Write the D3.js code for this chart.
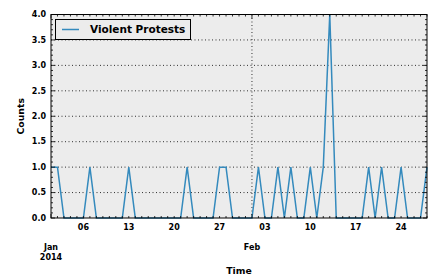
<!DOCTYPE html>
<html>
<head>
<meta charset="utf-8">
<script src="https://cdn.jsdelivr.net/npm/d3@7"></script>
<style>
  body { margin: 0; background: #fff; }
  svg text { font-family: "DejaVu Sans", sans-serif; font-weight: bold; fill: #000; }
</style>
</head>
<body>
<svg></svg>
<script>
const startDay = '2014-01-01';
const counts = [
	1, 1, 0, 0, 0, 0, 1, 0, 0, 0, 0, 0, 1, 0, 0, 0, 0, 0, 0, 0, 0, 1, 0, 0, 0, 0, 1, 1, 0, 0, 0,
	0, 1, 0, 0, 1, 0, 1, 0, 0, 1, 0, 1, 4, 0, 0, 0, 0, 0, 1, 0, 1, 0, 0, 1, 0, 0, 0, 1
];
const yTicks = [0, 0.5, 1, 1.5, 2, 2.5, 3, 3.5, 4];
const seriesName = 'Violent Protests';

const parse = d3.timeParse('%Y-%m-%d');
const t0 = parse(startDay);
const data = counts.map((v, i) => ({date: d3.timeDay.offset(t0, i), value: v}));

const width = 433, height = 280;
const pLeft = 51, pRight = 427, pTop = 14.5, pBottom = 218;

const svg = d3.select('svg')
	.attr('width', width)
	.attr('height', height);

const x = d3.scaleTime()
	.domain([data[0].date, data[data.length - 1].date])
	.range([pLeft, pRight]);
const y = d3.scaleLinear()
	.domain([0, 4])
	.range([pBottom, pTop]);

// background
svg.append('rect')
	.attr('x', pLeft).attr('y', pTop)
	.attr('width', pRight - pLeft).attr('height', pBottom - pTop)
	.attr('fill', '#ececec');

// grid
const majorX = d3.timeMonth.range(data[0].date, d3.timeDay.offset(data[data.length - 1].date, 1));
svg.append('g')
	.selectAll('line')
	.data(yTicks.slice(1, -1))
	.enter().append('line')
		.attr('x1', pLeft).attr('x2', pRight)
		.attr('y1', d => y(d)).attr('y2', d => y(d))
		.attr('stroke', '#000')
		.attr('stroke-width', 0.8)
		.attr('stroke-dasharray', '1,2.5');
svg.append('g')
	.selectAll('line')
	.data(majorX.slice(1))
	.enter().append('line')
		.attr('x1', d => x(d)).attr('x2', d => x(d))
		.attr('y1', pTop).attr('y2', pBottom)
		.attr('stroke', '#000')
		.attr('stroke-width', 0.8)
		.attr('stroke-dasharray', '1,2.5');

// line
const line = d3.line()
	.x(d => x(d.date))
	.y(d => y(d.value));
svg.append('path')
	.datum(data)
	.attr('fill', 'none')
	.attr('stroke', '#348ABD')
	.attr('stroke-width', 1.5)
	.attr('d', line);

// ticks (inside)
const days = data.map(d => d.date);
const ticks = svg.append('g').attr('stroke', '#000').attr('stroke-width', 0.8);
days.forEach(d => {
	const len = d.getDate() === 1 ? 4 : 2;
	ticks.append('line').attr('x1', x(d)).attr('x2', x(d)).attr('y1', pBottom).attr('y2', pBottom - len);
	ticks.append('line').attr('x1', x(d)).attr('x2', x(d)).attr('y1', pTop).attr('y2', pTop + len);
});
d3.range(0, 41).forEach(i => {
	const v = i / 10;
	const len = i % 5 === 0 ? 4 : 2;
	ticks.append('line').attr('x1', pLeft).attr('x2', pLeft + len).attr('y1', y(v)).attr('y2', y(v));
	ticks.append('line').attr('x1', pRight).attr('x2', pRight - len).attr('y1', y(v)).attr('y2', y(v));
});

// frame
svg.append('rect')
	.attr('x', pLeft).attr('y', pTop)
	.attr('width', pRight - pLeft).attr('height', pBottom - pTop)
	.attr('fill', 'none')
	.attr('stroke', '#000')
	.attr('stroke-width', 1);

// y labels
svg.append('g')
	.selectAll('text')
	.data(yTicks)
	.enter().append('text')
		.attr('x', 46)
		.attr('y', d => y(d))
		.attr('dy', '0.35em')
		.attr('text-anchor', 'end')
		.attr('font-size', 8)
		.text(d3.format('.1f'));

// x minor labels (Mondays)
const mondays = days.filter(d => d.getDay() === 1);
svg.append('g')
	.selectAll('text')
	.data(mondays)
	.enter().append('text')
		.attr('x', d => x(d))
		.attr('y', 230)
		.attr('text-anchor', 'middle')
		.attr('font-size', 8)
		.text(d3.timeFormat('%d'));

// x major labels
const majorLab = svg.append('g');
majorX.forEach((d, i) => {
	majorLab.append('text')
		.attr('x', x(d))
		.attr('y', 250)
		.attr('text-anchor', 'middle')
		.attr('font-size', 8)
		.text(d3.timeFormat('%b')(d));
	if (i === 0) {
		majorLab.append('text')
			.attr('x', x(d))
			.attr('y', 260)
			.attr('text-anchor', 'middle')
			.attr('font-size', 8)
			.text(d3.timeFormat('%Y')(d));
	}
});

// axis titles
svg.append('text')
	.attr('x', (pLeft + pRight) / 2)
	.attr('y', 274)
	.attr('text-anchor', 'middle')
	.attr('font-size', 9.3)
	.text('Time');
svg.append('text')
	.attr('transform', `translate(24,${(pTop + pBottom) / 2}) rotate(-90)`)
	.attr('text-anchor', 'middle')
	.attr('font-size', 9.3)
	.text('Counts');

// legend
const lg = svg.append('g');
lg.append('rect')
	.attr('x', 55.5).attr('y', 19.5)
	.attr('width', 135).attr('height', 20)
	.attr('fill', '#ececec')
	.attr('stroke', '#000')
	.attr('stroke-width', 1);
lg.append('line')
	.attr('x1', 62).attr('x2', 79)
	.attr('y1', 29.5).attr('y2', 29.5)
	.attr('stroke', '#348ABD')
	.attr('stroke-width', 1.5);
lg.append('text')
	.attr('x', 90)
	.attr('y', 29.5)
	.attr('dy', '0.35em')
	.attr('font-size', 10.5)
	.text(seriesName);
</script>
</body>
</html>
